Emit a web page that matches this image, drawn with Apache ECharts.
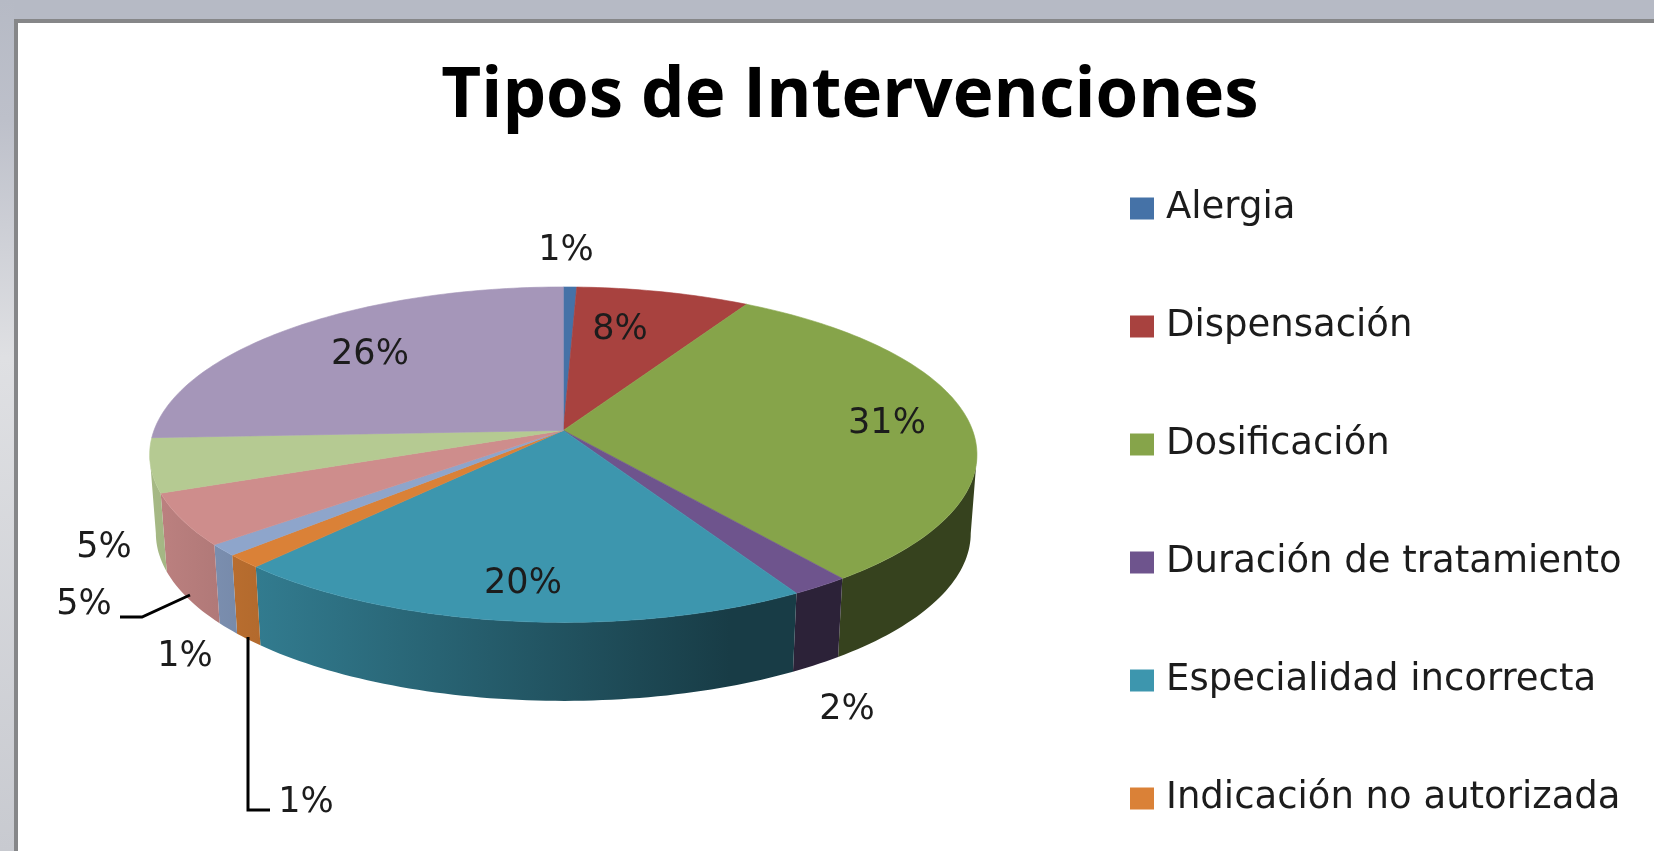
<!DOCTYPE html>
<html>
<head>
<meta charset="utf-8">
<style>html,body{margin:0;padding:0;background:#fff;overflow:hidden}#c{width:1654px;height:851px;filter:blur(0.5px)}</style>
<script src="https://cdn.jsdelivr.net/npm/echarts@6/dist/echarts.min.js"></script>
</head>
<body>
<div id="c"></div>
<script>
// ---- data ----
const categories = ['Alergia','Dispensación','Dosificación','Duración de tratamiento','Especialidad incorrecta','Indicación no autorizada','Sin leyenda 1','Sin leyenda 2','Sin leyenda 3','Sin leyenda 4'];
const shares = [0.6, 7.8, 31.3, 2.0, 20.0, 1.3, 1.1, 5.0, 5.2, 25.7];
const legendEntries = categories.slice(0, 6);
const titleText = 'Tipos de Intervenciones';

// ---- styling ----
const topColors = ['#4572a7','#a8423f','#86a44a','#6e548d','#3d96ae','#da8137','#8ea5cb','#ce8d8c','#b5ca92','#a596b9'];
// label centres in page pixels, one per slice
const labelSpots = [[566,251],[620,330],[887,424],[847,710],[523,584],[306,803],[185,657],[84,605],[104,548],[370,355]];
const leaderLines = {5:[[248,637],[248,810],[270,810]], 7:[[120,617],[142,617],[190,595]]};

// ---- projection of the tilted disc ----
const CX = 563.3, CY = 430.4, RX = 409.3, RY = 164.2, K = 0.1447, DEPTH = 78.5, SHRINK = 0.985;
function projectTop(theta){
  const x = Math.sin(theta), y = Math.cos(theta), w = 1 + K*y;
  return [CX + RX*x/w, CY - RY*y/w];
}
function projectBottom(theta){
  const p = projectTop(theta);
  return [CX + (p[0]-CX)*SHRINK, p[1] + DEPTH];
}
function scaleColor(hex, f){
  const n = parseInt(hex.slice(1),16);
  const c = [n>>16&255, n>>8&255, n&255].map(v => Math.round(v*f));
  return 'rgb('+c.join(',')+')';
}
const total = shares.reduce((a,b)=>a+b,0);
const startShare = shares.map((_,i)=>shares.slice(0,i).reduce((a,b)=>a+b,0));
// the side wall is only seen between the two horizontal extremes of the disc
const sideFrom = Math.PI/2 + Math.asin(K), sideTo = 3*Math.PI/2 - Math.asin(K);

function arcPoints(a0, a1, project){
  const steps = Math.max(2, Math.ceil((a1-a0)/0.02)), pts = [];
  for(let s=0;s<=steps;s++) pts.push(project(a0 + (a1-a0)*s/steps));
  return pts;
}

function renderSlice(params, api){
  const i = params.seriesIndex;
  const value = api.value(0);
  const a0 = startShare[i]/total*2*Math.PI;
  const a1 = a0 + value/total*2*Math.PI;
  const col = topColors[i];
  const children = [];
  const w0 = Math.max(a0, sideFrom), w1 = Math.min(a1, sideTo);
  if(w1 > w0){
    const xL = CX-RX*1.02, xR = CX+RX*1.02, knee = 0.7;
    children.push({type:'polygon', z2:1,
      shape:{points:arcPoints(w0,w1,projectTop).concat(arcPoints(w0,w1,projectBottom).reverse())},
      style:{fill:{type:'linear',global:true,x:xL,y:0,x2:xR,y2:0,colorStops:[
        {offset:0,color:scaleColor(col,0.92)},
        {offset:knee,color:scaleColor(col,0.40)},
        {offset:1,color:scaleColor(col,0.40)}]}}});
  }
  children.push({type:'polygon', z2:2, shape:{points:[[CX,CY]].concat(arcPoints(a0,a1,projectTop))},
     style:{fill:col, stroke:col, lineWidth:0.6}});
  children.push({type:'text', z2:5, x:labelSpots[i][0], y:labelSpots[i][1],
     style:{text:Math.round(value/total*100)+'%', fill:'#1c1c1c', font:'35px "DejaVu Sans"', textAlign:'center', textVerticalAlign:'middle'}});
  if(leaderLines[i]){
    children.push({type:'polyline', z2:4, shape:{points:leaderLines[i]}, style:{fill:'none', stroke:'#000', lineWidth:3}});
  }
  return {type:'group', children};
}

const chart = echarts.init(document.getElementById('c'), null, {renderer:'canvas'});
chart.setOption({
  animation:false,
  backgroundColor:'#ffffff',
  tooltip:{show:false},
  title:{text:titleText, left:845, top:58, textAlign:'center',
    textStyle:{fontFamily:'Open Sans', fontWeight:'bold', fontSize:69, color:'#000'}},
  legend:{
    data:legendEntries, orient:'vertical', left:1125, top:185,
    icon:'rect', itemWidth:24, itemHeight:22, itemGap:81, selectedMode:false,
    textStyle:{fontFamily:'DejaVu Sans', fontSize:37, color:'#1c1c1c', padding:[0,0,0,7]}
  },
  graphic:{elements:[
    {type:'rect', z:-1, shape:{x:0,y:0,width:1654,height:19}, style:{fill:'#b6bac5'}},
    {type:'rect', z:-1, shape:{x:0,y:0,width:14,height:851},
     style:{fill:{type:'linear',x:0,y:0,x2:0,y2:1,colorStops:[
       {offset:0,color:'#b6bac5'},{offset:0.14,color:'#bdc0ca'},{offset:0.42,color:'#dfe0e3'},{offset:1,color:'#c8cad0'}]}}},
    {type:'rect', z:-1, shape:{x:14,y:19,width:1640,height:4}, style:{fill:'#868789'}},
    {type:'rect', z:-1, shape:{x:14,y:19,width:4,height:832}, style:{fill:'#868789'}}
  ]},
  series: categories.map((name,i)=>({
    type:'custom', name, coordinateSystem:'none', silent:true, clip:false,
    itemStyle:{color:topColors[i]},
    renderItem:renderSlice,
    data:[[shares[i]]]
  }))
});
</script>
</body>
</html>
